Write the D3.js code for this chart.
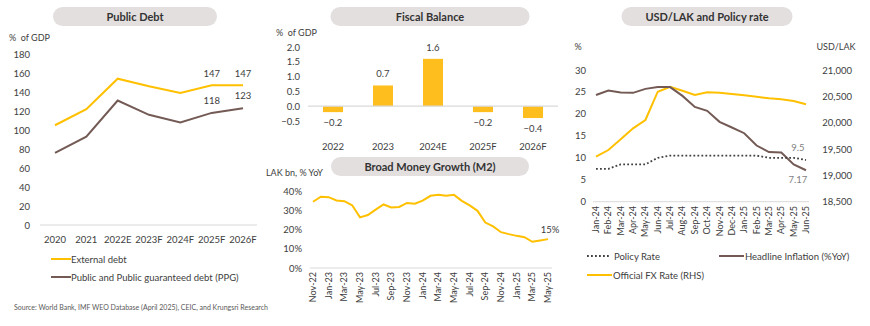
<!DOCTYPE html>
<html>
<head>
<meta charset="utf-8">
<script src="https://cdn.jsdelivr.net/npm/d3@7"></script>
<style>
  body { margin: 0; background: #fff; }
  svg { font-family: Lato, "Open Sans", sans-serif; }
  text { fill: #3d3d3d; white-space: pre; }
</style>
</head>
<body>
<svg id="chart" width="870" height="326"></svg>
<script>
// ---- data ----
const debtYears = ["2020", "2021", "2022E", "2023F", "2024F", "2025F", "2026F"];
const externalDebt = [105, 122, 154, 146, 139, 147, 147];
const ppgDebt = [76, 93, 131, 116, 108, 118, 123];

const fiscalYears = ["2022", "2023", "2024E", "2025F", "2026F"];
const fiscalBalance = [-0.2, 0.7, 1.6, -0.2, -0.4];

const m2Months = ["Nov-22", "Dec-22", "Jan-23", "Feb-23", "Mar-23", "Apr-23", "May-23", "Jun-23",
  "Jul-23", "Aug-23", "Sep-23", "Oct-23", "Nov-23", "Dec-23", "Jan-24", "Feb-24", "Mar-24",
  "Apr-24", "May-24", "Jun-24", "Jul-24", "Aug-24", "Sep-24", "Oct-24", "Nov-24", "Dec-24",
  "Jan-25", "Feb-25", "Mar-25", "Apr-25", "May-25"];
const m2Growth = [34.4, 37.0, 36.8, 35.1, 34.7, 32.6, 26.3, 27.5, 30.3, 33.0, 31.4, 31.7, 33.8,
  33.4, 35.0, 37.5, 38.0, 37.5, 38.0, 34.9, 32.5, 29.7, 23.6, 21.6, 18.6, 17.6, 16.7, 16.0,
  13.6, 14.3, 15.0];

const fxMonths = ["Jan-24", "Feb-24", "Mar-24", "Apr-24", "May-24", "Jun-24", "Jul-24", "Aug-24",
  "Sep-24", "Oct-24", "Nov-24", "Dec-24", "Jan-25", "Feb-25", "Mar-25", "Apr-25", "May-25", "Jun-25"];
const policyRate = [7.5, 7.5, 8.5, 8.5, 8.5, 10, 10.5, 10.5, 10.5, 10.5, 10.5, 10.5, 10.5, 10.5, 10, 10, 10, 9.5];
const inflation = [24.3, 25.3, 24.9, 24.8, 25.7, 26.1, 26.1, 24.1, 21.6, 20.7, 18.2, 16.9, 15.6, 12.8, 11.3, 11.2, 8.5, 7.17];
const fxRate = [19354, 19481, 19684, 19893, 20051, 20588, 20683, 20607, 20525, 20577, 20569, 20544,
  20520, 20493, 20462, 20444, 20411, 20349];

const debtTicks = [0, 20, 40, 60, 80, 100, 120, 140, 160, 180];
const fiscalTicks = [-0.5, 0, 0.5, 1.0, 1.5, 2.0];
const m2Ticks = [0, 10, 20, 30, 40];
const rateTicks = [0, 5, 10, 15, 20, 25, 30];
const fxTicks = [18500, 19000, 19500, 20000, 20500, 21000];

const ORANGE = "#FFC000";
const BAR = "#FDBE1E";
const BROWN = "#735A55";
const AXIS = "#D9D9D9";

const svg = d3.select("#chart");

function pill(cx, cy, w, label) {
  svg.append("rect")
    .attr("x", cx - w / 2).attr("y", cy - 9.5)
    .attr("width", w).attr("height", 19)
    .attr("rx", 9.5)
    .attr("fill", "#E3DFDF");
  svg.append("text")
    .attr("x", cx).attr("y", cy + 4)
    .attr("text-anchor", "middle")
    .style("font-size", "11px").style("font-weight", "bold")
    .style("fill", "#333")
    .text(label);
}

// ---- Public Debt ----
pill(135, 16.5, 164, "Public Debt");
svg.append("text").attr("x", 9).attr("y", 41).style("font-size", "9px").text("%  of GDP");

const dx = d3.scalePoint().domain(debtYears).range([55, 243]);
const dy = d3.scaleLinear().domain([0, 180]).range([225, 54]);

svg.append("g").selectAll("text").data(debtTicks).join("text")
  .attr("x", 30).attr("y", d => dy(d) + 3.5)
  .attr("text-anchor", "end").style("font-size", "9.5px")
  .text(d => d);
svg.append("line").attr("x1", 40).attr("x2", 257).attr("y1", dy(0)).attr("y2", dy(0))
  .attr("stroke", AXIS);
svg.append("g").selectAll("text").data(debtYears).join("text")
  .attr("x", d => dx(d)).attr("y", 243)
  .attr("text-anchor", "middle").style("font-size", "9.5px")
  .text(d => d);

const debtLine = d3.line().x((d, i) => dx(debtYears[i])).y(d => dy(d));
svg.append("path").attr("d", debtLine(externalDebt))
  .attr("fill", "none").attr("stroke", ORANGE).attr("stroke-width", 2);
svg.append("path").attr("d", debtLine(ppgDebt))
  .attr("fill", "none").attr("stroke", BROWN).attr("stroke-width", 2);

[5, 6].forEach(i => {
  svg.append("text").attr("x", dx(debtYears[i])).attr("y", dy(externalDebt[i]) - 8)
    .attr("text-anchor", "middle").style("font-size", "9.5px").text(externalDebt[i]);
  svg.append("text").attr("x", dx(debtYears[i])).attr("y", dy(ppgDebt[i]) - 9)
    .attr("text-anchor", "middle").style("font-size", "9.5px").text(ppgDebt[i]);
});

const debtLegend = [["External debt", ORANGE], ["Public and Public guaranteed debt (PPG)", BROWN]];
debtLegend.forEach(([label, color], i) => {
  const yy = 259 + i * 18;
  svg.append("line").attr("x1", 51).attr("x2", 71).attr("y1", yy).attr("y2", yy)
    .attr("stroke", color).attr("stroke-width", 2);
  svg.append("text").attr("x", 71).attr("y", yy + 3.5).style("font-size", "9.5px").text(label);
});

svg.append("text").attr("x", 14).attr("y", 310)
  .style("font-size", "7px").style("fill", "#595959")
  .text("Source: World Bank, IMF WEO Database (April 2025), CEIC, and Krungsri Research");

// ---- Fiscal Balance ----
pill(430, 16.5, 199, "Fiscal Balance");
svg.append("text").attr("x", 276).attr("y", 36).style("font-size", "9px").text("%  of GDP");

const fx = d3.scaleBand().domain(fiscalYears).range([308, 558]).paddingInner(0.6).paddingOuter(0.3);
const fy = d3.scaleLinear().domain([-0.5, 2.0]).range([121, 47]);

svg.append("g").selectAll("text").data(fiscalTicks).join("text")
  .attr("x", 300).attr("y", d => fy(d) + 3.5)
  .attr("text-anchor", "end").style("font-size", "9.5px")
  .text(d => d3.format(".1f")(d));

svg.append("g").selectAll("rect").data(fiscalBalance).join("rect")
  .attr("x", (d, i) => fx(fiscalYears[i]))
  .attr("width", fx.bandwidth())
  .attr("y", d => fy(Math.max(0, d)))
  .attr("height", d => Math.abs(fy(d) - fy(0)))
  .attr("fill", BAR);
svg.append("line").attr("x1", 308).attr("x2", 558).attr("y1", fy(0)).attr("y2", fy(0))
  .attr("stroke", AXIS).attr("stroke-width", 1.2);

svg.append("g").selectAll("text").data(fiscalBalance).join("text")
  .attr("x", (d, i) => fx(fiscalYears[i]) + fx.bandwidth() / 2)
  .attr("y", d => d >= 0 ? fy(d) - 8 : fy(d) + 14)
  .attr("text-anchor", "middle").style("font-size", "9.5px")
  .text(d => d3.format(".1f")(d));
svg.append("g").selectAll("text.xl").data(fiscalYears).join("text")
  .attr("x", d => fx(d) + fx.bandwidth() / 2).attr("y", 150)
  .attr("text-anchor", "middle").style("font-size", "9.5px")
  .text(d => d);

// ---- Broad Money Growth ----
pill(430, 166.5, 198, "Broad Money Growth (M2)");
svg.append("text").attr("x", 266).attr("y", 176).style("font-size", "9px").text("LAK bn, % YoY");

const mx = d3.scalePoint().domain(m2Months).range([313, 548]);
const my = d3.scaleLinear().domain([0, 40]).range([268, 191]);

svg.append("g").selectAll("text").data(m2Ticks).join("text")
  .attr("x", 302).attr("y", d => my(d) + 3.5)
  .attr("text-anchor", "end").style("font-size", "9.5px")
  .text(d => d + "%");
svg.append("line").attr("x1", 310).attr("x2", 552).attr("y1", my(0)).attr("y2", my(0))
  .attr("stroke", AXIS);
svg.append("g").selectAll("text").data(m2Months.filter((d, i) => i % 2 === 0)).join("text")
  .attr("transform", d => `translate(${mx(d) + 3},272) rotate(-90)`)
  .attr("text-anchor", "end").style("font-size", "9px")
  .text(d => d);
svg.append("path").attr("d", d3.line().x((d, i) => mx(m2Months[i])).y(d => my(d))(m2Growth))
  .attr("fill", "none").attr("stroke", ORANGE).attr("stroke-width", 2);
svg.append("text").attr("x", mx(m2Months[m2Months.length - 1]) + 2)
  .attr("y", my(m2Growth[m2Growth.length - 1]) - 6)
  .attr("text-anchor", "middle").style("font-size", "9.5px")
  .text(m2Growth[m2Growth.length - 1] + "%");

// ---- USD/LAK and Policy rate ----
pill(707, 16.5, 171, "USD/LAK and Policy rate");
svg.append("text").attr("x", 578).attr("y", 50).attr("text-anchor", "middle")
  .style("font-size", "9px").text("%");
svg.append("text").attr("x", 836).attr("y", 50).attr("text-anchor", "middle")
  .style("font-size", "9px").text("USD/LAK");

const px = d3.scalePoint().domain(fxMonths).range([596, 806]);
const pyL = d3.scaleLinear().domain([0, 30]).range([201.7, 70]);
const pyR = d3.scaleLinear().domain([18500, 21000]).range([201.7, 70]);

svg.append("g").selectAll("text").data(rateTicks).join("text")
  .attr("x", 586).attr("y", d => pyL(d) + 3.5)
  .attr("text-anchor", "end").style("font-size", "9.5px")
  .text(d => d);
svg.append("g").selectAll("text").data(fxTicks).join("text")
  .attr("x", 852).attr("y", d => pyR(d) + 3.5)
  .attr("text-anchor", "end").style("font-size", "9.5px")
  .text(d => d3.format(",")(d));
svg.append("line").attr("x1", 593).attr("x2", 809).attr("y1", pyL(0)).attr("y2", pyL(0))
  .attr("stroke", AXIS);
svg.append("g").selectAll("text").data(fxMonths).join("text")
  .attr("transform", d => `translate(${px(d) + 3},206) rotate(-90)`)
  .attr("text-anchor", "end").style("font-size", "9px")
  .text(d => d);

const rateLine = d3.line().x((d, i) => px(fxMonths[i])).y(d => pyL(d));
svg.append("path").attr("d", d3.line().x((d, i) => px(fxMonths[i])).y(d => pyR(d))(fxRate))
  .attr("fill", "none").attr("stroke", ORANGE).attr("stroke-width", 2);
svg.append("path").attr("d", rateLine(inflation))
  .attr("fill", "none").attr("stroke", BROWN).attr("stroke-width", 2);
svg.append("path").attr("d", rateLine(policyRate))
  .attr("fill", "none").attr("stroke", "#404040").attr("stroke-width", 1.8)
  .attr("stroke-dasharray", "1.8,2.2");

const lastM = fxMonths[fxMonths.length - 1];
svg.append("text").attr("x", px(lastM) - 8).attr("y", pyL(policyRate[policyRate.length - 1]) - 9)
  .attr("text-anchor", "middle").style("font-size", "9.5px").style("fill", "#7F7F7F")
  .text(policyRate[policyRate.length - 1]);
svg.append("text").attr("x", px(lastM) - 8).attr("y", pyL(inflation[inflation.length - 1]) + 13)
  .attr("text-anchor", "middle").style("font-size", "9.5px").style("fill", "#7F7F7F")
  .text(inflation[inflation.length - 1]);

const rateLegend = [
  ["Policy Rate", "#404040", true, 587, 256],
  ["Headline Inflation (%YoY)", BROWN, false, 719, 256],
  ["Official FX Rate (RHS)", ORANGE, false, 587, 275]
];
rateLegend.forEach(([label, color, dotted, lx, ly]) => {
  const l = svg.append("line").attr("x1", lx).attr("x2", lx + 25).attr("y1", ly).attr("y2", ly)
    .attr("stroke", color).attr("stroke-width", dotted ? 1.8 : 2);
  if (dotted) l.attr("stroke-dasharray", "1.8,2.2").attr("x2", lx + 22);
  svg.append("text").attr("x", lx + (dotted ? 27 : 26)).attr("y", ly + 3.5)
    .style("font-size", "9.5px").text(label);
});
</script>
</body>
</html>
